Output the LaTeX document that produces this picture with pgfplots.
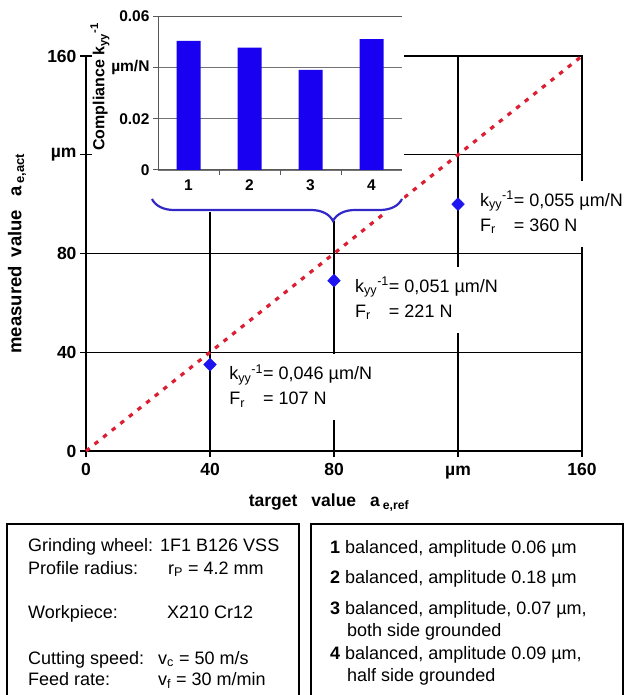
\documentclass[border=0pt]{standalone}
\usepackage{pgfplots}
\pgfplotsset{compat=1.18}
\usepackage{fontspec}
\setmainfont{Liberation Sans}
\usetikzlibrary{decorations.pathreplacing}
\definecolor{barblue}{RGB}{25,0,240}
\definecolor{dotred}{RGB}{220,30,50}
\definecolor{bracecol}{RGB}{50,40,200}
\definecolor{diamblue}{RGB}{30,20,240}
\newcommand{\ann}[2]{\begin{tabular}{@{}l@{}l@{}}k\textsubscript{yy}\textsuperscript{-1}&= #1 µm/N\\F\textsubscript{r}&= #2 N\end{tabular}}
\begin{document}
\begin{tikzpicture}
\path[use as bounding box] (0pt,0pt) rectangle (628pt,-695pt);
\begin{axis}[
  at={(86pt,-451pt)}, anchor=south west,
  width=496pt, height=395pt, scale only axis,
  xmin=0,xmax=160,ymin=0,ymax=160,
  xtick={0,40,80,120,160}, xticklabels={0,40,80,µm,160},
  ytick={0,40,80,120,160}, yticklabels={0,40,80,µm,160},
  grid=major, grid style={black, line width=1.5pt},
  axis line style={black, line width=1.5pt},
  tick style={black, line width=1.5pt},
  major tick length=6pt, tick align=outside, tick pos=left,
  tick label style={font=\bfseries\fontsize{17.5}{20}\selectfont},
  xticklabel style={text height=12.5pt, text depth=3pt, yshift=-2pt},
  xlabel={target\hspace{14pt}value\hspace{14pt}a\,\textsubscript{e,ref}},
  ylabel={measured\hspace{9pt}value\hspace{13pt}a\,\textsubscript{e,act}},
  xlabel style={font=\bfseries\fontsize{17.5}{20}\selectfont, at={(axis description cs:0.49,-0.13)}, anchor=center},
  ylabel style={font=\bfseries\fontsize{18.5}{21}\selectfont, at={(axis description cs:-0.139,0.5)}, anchor=center},
  clip=false,
]
\addplot[dotred, line width=3.2pt, dash pattern=on 4.5pt off 6.5pt] coordinates {(0,0) (160,160)};
\addplot[only marks, mark=diamond*, mark size=6.5pt, color=diamblue, mark options={xscale=1.3}] coordinates {(40,35) (80,69) (120,100)};
\node[fill=white, anchor=west, inner xsep=3pt, inner ysep=8pt, font=\fontsize{18}{25}\selectfont] at (axis cs:45.2,25.8) {\ann{0,046}{107}};
\node[fill=white, anchor=west, inner xsep=3pt, inner ysep=8pt, font=\fontsize{18}{25}\selectfont] at (axis cs:85.8,61.3) {\ann{0,051}{221}};
\node[fill=white, anchor=west, inner xsep=3pt, inner ysep=8pt, font=\fontsize{18}{25}\selectfont] at (axis cs:126.1,96.2) {\ann{0,055}{360}};
\end{axis}
\fill[white] (92pt,0pt) rectangle (404pt,-212pt);
\fill[white] (326pt,-212pt) rectangle (342pt,-221pt);
\begin{axis}[
  at={(158pt,-170pt)}, anchor=south west,
  width=244pt, height=154pt, scale only axis,
  xmin=0.5,xmax=4.5,ymin=0,ymax=0.06,
  ybar, bar width=24pt,
  axis x line*=box, axis y line*=left,
  axis line style={black!65, line width=1pt},
  ytick={0,0.02,0.04,0.06}, yticklabels={0,0.02,µm/N,0.06},
  scaled y ticks=false,
  ymajorgrids, grid style={black!55, line width=0.8pt},
  xtick={1.5,2.5,3.5}, xticklabels={},
  extra x ticks={1,2,3,4}, extra x tick labels={1,2,3,4},
  extra x tick style={major tick length=0pt},
  tick style={black!65, line width=1pt},
  major tick length=5pt, tick align=outside, ytick pos=left, xtick pos=bottom,
  tick label style={font=\bfseries\fontsize{15.5}{18}\selectfont},
  xticklabel style={yshift=-6pt},
  ylabel={Compliance k\textsubscript{yy}\textsuperscript{-1}},
  ylabel style={font=\bfseries\fontsize{16}{18}\selectfont, at={(axis description cs:-0.238,0.54)}, anchor=center},
]
\addplot[fill=barblue, draw=none] coordinates {(1,0.0503) (2,0.0477) (3,0.039) (4,0.051)};
\end{axis}
\draw[bracecol, line width=2.2pt, decorate, decoration={brace, mirror, amplitude=22pt, aspect=0.724}] (152pt,-199pt) -- (402pt,-199pt);
\draw[line width=1.5pt] (7pt,-524pt) rectangle (299pt,-700pt);
\draw[line width=1.5pt] (311pt,-524pt) rectangle (623pt,-700pt);
\begin{scope}[every node/.style={anchor=base west, inner sep=0pt, font=\fontsize{18}{21}\selectfont}]
\node at (28pt,-551.5pt) {Grinding wheel:};
\node at (28pt,-574pt) {Profile radius:};
\node at (28pt,-618pt) {Workpiece:};
\node at (28pt,-664pt) {Cutting speed:};
\node at (28pt,-685pt) {Feed rate:};
\node at (160pt,-551.5pt) {1F1 B126 VSS};
\node at (168pt,-574pt) {r\textsubscript{P} = 4.2 mm};
\node at (167pt,-618pt) {X210 Cr12};
\node at (158pt,-664pt) {v\textsubscript{c} = 50 m/s};
\node at (158pt,-685pt) {v\textsubscript{f} = 30 m/min};
\node at (330pt,-553pt) {\textbf{1} balanced, amplitude 0.06 µm};
\node at (330pt,-583pt) {\textbf{2} balanced, amplitude 0.18 µm};
\node at (330pt,-614pt) {\textbf{3} balanced, amplitude, 0.07 µm,};
\node at (347pt,-636pt) {both side grounded};
\node at (330pt,-659pt) {\textbf{4} balanced, amplitude 0.09 µm,};
\node at (347pt,-681pt) {half side grounded};
\end{scope}
\end{tikzpicture}
\end{document}
